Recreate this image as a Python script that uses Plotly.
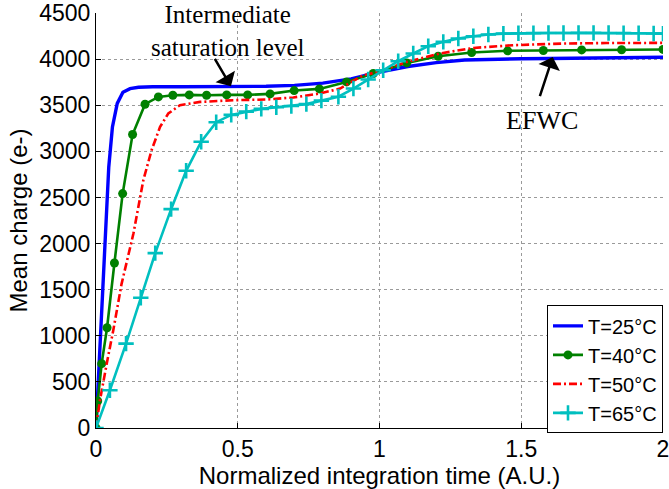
import plotly.graph_objects as go

# ---- data ----
t25 = [0, 0.015, 0.032, 0.045, 0.058, 0.075, 0.095, 0.12, 0.15, 0.2, 0.3, 0.4, 0.5, 0.6, 0.7, 0.8,
       0.9, 1.0, 1.1, 1.2, 1.3, 1.4, 1.5, 1.6, 1.7, 1.8, 1.9, 2.0]
q25 = [0, 1000, 2140, 2830, 3265, 3520, 3640, 3680, 3695, 3700, 3700, 3700, 3700, 3705, 3715, 3740,
       3785, 3860, 3920, 3962, 3990, 4000, 4004, 4007, 4010, 4013, 4016, 4020]

t40 = [0, 0.006, 0.020, 0.039, 0.065, 0.094, 0.129, 0.173, 0.220, 0.271, 0.329, 0.390, 0.461, 0.535,
       0.614, 0.699, 0.788, 0.884, 0.978, 1.096, 1.207, 1.325, 1.452, 1.578, 1.713, 1.854, 2.0]
q40 = [0, 293, 698, 1087, 1789, 2542, 3182, 3511, 3590, 3608, 3612, 3608, 3612, 3612,
       3623, 3659, 3677, 3753, 3844, 3959, 4031, 4072, 4090, 4093, 4100, 4102, 4105]

t50 = [0, 0.014, 0.038, 0.061, 0.09, 0.126, 0.132, 0.167, 0.196, 0.226, 0.255, 0.296, 0.367, 0.484,
       0.602, 0.696, 0.79, 0.861, 0.943, 1.0, 1.096, 1.213, 1.331, 1.472, 1.648, 1.8, 2.0]
q50 = [0, 300, 700, 1060, 1560, 2050, 2108, 2687, 3012, 3265, 3410, 3500, 3536, 3554,
       3562, 3584, 3627, 3681, 3825, 3865, 3970, 4061, 4121, 4151, 4169, 4174, 4176]

t65 = [0, 0.049, 0.106, 0.158, 0.209, 0.265, 0.318, 0.371, 0.424, 0.477, 0.530, 0.583, 0.636, 0.689,
       0.742, 0.795, 0.855, 0.908, 0.960, 1.013, 1.066, 1.119, 1.172, 1.225, 1.278, 1.331, 1.384,
       1.437, 1.490, 1.543, 1.596, 1.649, 1.702, 1.755, 1.808, 1.861, 1.914, 1.967, 2.0]
q65 = [0, 409, 915, 1412, 1896, 2373, 2789, 3104, 3316, 3395, 3431, 3460, 3478, 3492,
       3512, 3550, 3592, 3681, 3779, 3880, 3977, 4061, 4140, 4187, 4223, 4248, 4267,
       4276, 4280, 4282, 4283, 4283, 4284, 4284, 4283, 4282, 4280, 4278, 4276]

x_ticks = [0, 0.5, 1, 1.5, 2]
x_ticklabels = ["0", "0.5", "1", "1.5", "2"]
y_ticks = [0, 500, 1000, 1500, 2000, 2500, 3000, 3500, 4000, 4500]
y_ticklabels = [str(v) for v in y_ticks]

SANS = "Arial, Liberation Sans, sans-serif"
SERIF = "Times New Roman, Liberation Serif, serif"

fig = go.Figure()
fig.add_trace(go.Scatter(x=t25, y=q25, mode="lines", name="T=25°C",
                         line=dict(color="#0000FF", width=3.4)))
fig.add_trace(go.Scatter(x=t40, y=q40, mode="lines+markers", name="T=40°C",
                         line=dict(color="#008000", width=2.6),
                         marker=dict(symbol="circle", size=9, color="#008000")))
fig.add_trace(go.Scatter(x=t50, y=q50, mode="lines", name="T=50°C",
                         line=dict(color="#FF0000", width=2.6, dash="8px,3px,2px,3px")))
fig.add_trace(go.Scatter(x=t65, y=q65, mode="lines+markers", name="T=65°C",
                         line=dict(color="#00BFBF", width=2.6),
                         marker=dict(symbol="cross-thin", size=11,
                                     line=dict(color="#00BFBF", width=2.6))))

axis_common = dict(
    showgrid=True, gridcolor="#9a9a9a", griddash="dot", gridwidth=1,
    showline=True, linecolor="black", linewidth=1, mirror=False,
    ticks="inside", ticklen=5, tickcolor="black", zeroline=False,
    tickfont=dict(family=SANS, size=23, color="black"),
    ticklabeloverflow="allow", automargin=False,
)

fig.update_xaxes(range=[0, 2], tickvals=x_ticks, ticktext=x_ticklabels,
                 title=dict(text="Normalized integration time (A.U.)",
                            font=dict(family=SANS, size=24, color="black"), standoff=2),
                 **axis_common)
fig.update_yaxes(range=[0, 4500], tickvals=y_ticks, ticktext=y_ticklabels,
                 title=dict(text="Mean charge (e-)",
                            font=dict(family=SANS, size=24, color="black"), standoff=4),
                 **axis_common)

fig.add_annotation(x=0.465, y=4300, xref="x", yref="y",
                   text="Intermediate<br>saturation level", showarrow=False,
                   font=dict(family=SERIF, size=25, color="black"))
fig.add_annotation(x=0.476, y=3706, ax=0.416, ay=4020, xref="x", yref="y",
                   axref="x", ayref="y", text="", showarrow=True,
                   arrowhead=1, arrowsize=1.5, arrowwidth=2.5, arrowcolor="black")
fig.add_annotation(x=1.573, y=3335, xref="x", yref="y", text="EFWC", showarrow=False,
                   font=dict(family=SERIF, size=26, color="black"))
fig.add_annotation(x=1.611, y=4024, ax=1.564, ay=3583, xref="x", yref="y",
                   axref="x", ayref="y", text="", showarrow=True,
                   arrowhead=1, arrowsize=1.5, arrowwidth=2.5, arrowcolor="black")

fig.update_layout(
    width=669, height=489,
    margin=dict(l=96, r=6, t=13, b=61),
    paper_bgcolor="white", plot_bgcolor="white",
    showlegend=True,
    legend=dict(x=1, xanchor="right", y=-0.013, yanchor="bottom",
                bgcolor="white", bordercolor="black", borderwidth=1,
                font=dict(family=SANS, size=20, color="black"),
                tracegroupgap=0, itemwidth=30),
)

fig.write_html("out.html")
